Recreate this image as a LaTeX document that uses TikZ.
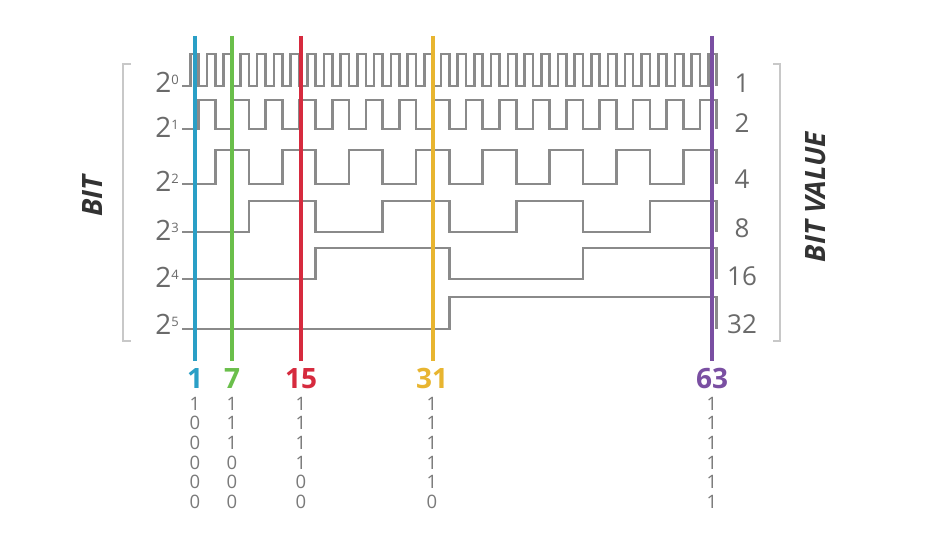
\documentclass[tikz,border=0pt]{standalone}
\usepackage{fontspec}
\setmainfont{Open Sans}
\definecolor{wavegray}{HTML}{8A8A8A}
\definecolor{brkgray}{HTML}{C8C8C8}
\definecolor{lblgray}{HTML}{6A6A6A}
\definecolor{diggray}{HTML}{7A7A7A}
\definecolor{titlegray}{HTML}{333333}
\definecolor{cOne}{HTML}{2A9FC6}
\definecolor{cSeven}{HTML}{6ABF4B}
\definecolor{cFifteen}{HTML}{D62A3E}
\definecolor{cThirtyOne}{HTML}{E8B530}
\definecolor{cSixtyThree}{HTML}{7A4FA2}
\newcommand{\pw}[1]{2\raisebox{8pt}{\fontsize{13}{13}\selectfont #1}}
\begin{document}
\begin{tikzpicture}[x=1pt,y=-1pt,
  wave/.style={draw=wavegray, line width=2.6pt, line join=miter},
  brk/.style={draw=brkgray, line width=2.2pt},
  vline/.style={line width=4.2pt},
  lbl/.style={text=lblgray, inner sep=0pt, font=\fontsize{28}{28}\selectfont},
  vlbl/.style={text=lblgray, inner sep=0pt, anchor=base, font=\fontsize{26}{26}\selectfont},
  cnt/.style={inner sep=0pt, anchor=base, font=\fontsize{28}{28}\selectfont\bfseries},
  bitdig/.style={text=diggray, inner sep=0pt, anchor=base, font=\fontsize{18.5}{18.5}\selectfont},
  title/.style={text=titlegray, inner sep=0pt, rotate=90, font=\fontsize{28}{28}\selectfont\bfseries\itshape}]
\useasboundingbox (0,0) rectangle (925,540);
\fill[white] (0,0) rectangle (925,540);

% brackets
\draw[brk] (131,64) -- (123,64) -- (123,341) -- (131,341);
\draw[brk] (773,64) -- (780,64) -- (780,341) -- (773,341);

% waveforms
\foreach \b/\hi/\lo in {0/54/86, 1/100/129, 2/150/184, 3/201/232, 4/248/279, 5/297/329}{
  \pgfmathtruncatemacro{\h}{2^\b}
  \pgfmathtruncatemacro{\N}{32/\h - 1}
  \draw[wave] (182,\lo) foreach \i in {0,...,\N} {
    -- ({182+(2*\i+1)*\h*8.355},\lo) -- ({182+(2*\i+1)*\h*8.355},\hi)
    -- ({182+(2*\i+2)*\h*8.355},\hi) -- ({182+(2*\i+2)*\h*8.355},\lo) };
}

% left labels
\node[lbl, anchor=base east] (p0) at (179,93) {\pw{0}};
\node[lbl, anchor=base east] (p1) at (179,138) {\pw{1}};
\node[lbl, anchor=base east] (p2) at (179,191) {\pw{2}};
\node[lbl, anchor=base east] (p3) at (179,240) {\pw{3}};
\node[lbl, anchor=base east] (p4) at (179,287) {\pw{4}};
\node[lbl, anchor=base east] (p5) at (179,334) {\pw{5}};

% right labels
\node[vlbl] (v0) at (742,93) {1};
\node[vlbl] (v1) at (742,133) {2};
\node[vlbl] (v2) at (742,189) {4};
\node[vlbl] (v3) at (742,237) {8};
\node[vlbl] (v4) at (742,285) {16};
\node[vlbl] (v5) at (742,333) {32};

% titles
\node[title] (bit) at (93,196) {BIT};
\node[title] (bitvalue) at (816,197) {BIT VALUE};

% marker lines
\foreach \x/\n/\c in {195/a/cOne, 232/b/cSeven, 301/c/cFifteen, 433/d/cThirtyOne, 712/e/cSixtyThree}{
  \coordinate (top\n) at (\x,36);
  \coordinate (bot\n) at (\x,361);
  \draw[vline, draw=\c] (top\n) -- (bot\n);
}

% count labels
\node[cnt, text=cOne] (n1) at (195,388) {1};
\node[cnt, text=cSeven] (n7) at (232,388) {7};
\node[cnt, text=cFifteen] (n15) at (301,388) {15};
\node[cnt, text=cThirtyOne] (n31) at (432,388) {31};
\node[cnt, text=cSixtyThree] (n63) at (712,388) {63};

% binary digits
\foreach \x/\n/\bits in {195/a/{1,0,0,0,0,0}, 232/b/{1,1,1,0,0,0}, 301/c/{1,1,1,1,0,0}, 432/d/{1,1,1,1,1,0}, 712/e/{1,1,1,1,1,1}}{
  \foreach \v [count=\r] in \bits {
    \node[bitdig] (d\n\r) at (\x,{410+(\r-1)*19.7}) {\v};
  }
}
\end{tikzpicture}
\end{document}
